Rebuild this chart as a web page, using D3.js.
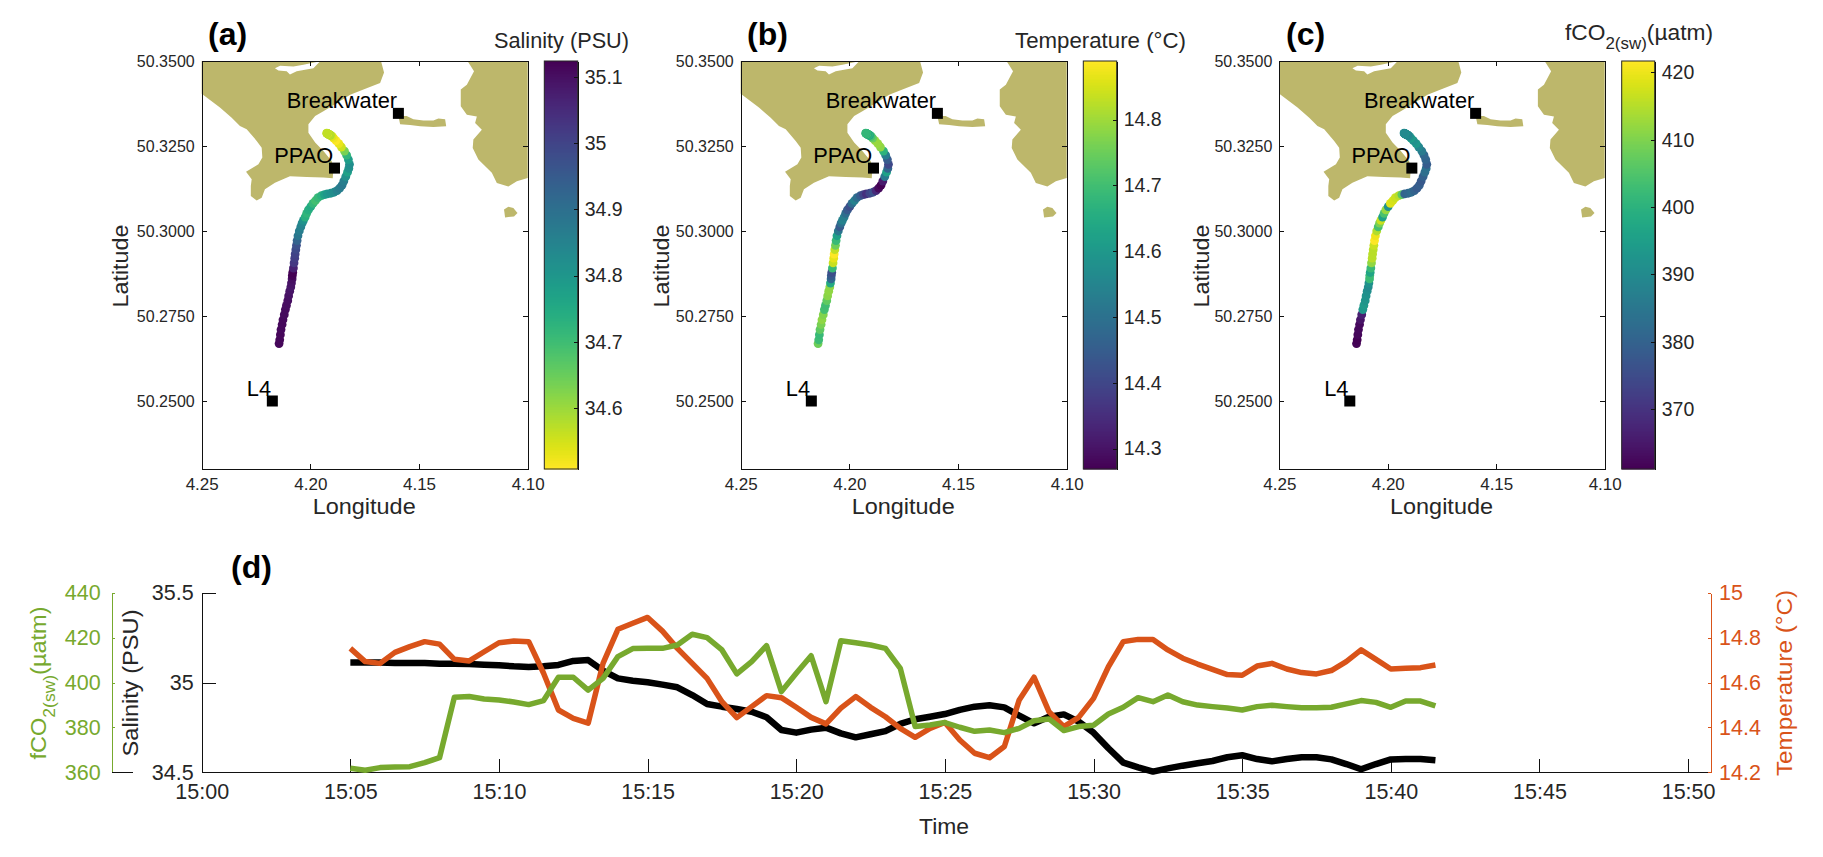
<!DOCTYPE html>
<html>
<head>
<meta charset="utf-8">
<title>Salinity, temperature and fCO2 transect</title>
<script src="https://cdn.jsdelivr.net/npm/d3@7"></script>
<style>
  body { margin: 0; background: #fff; }
  text { font-family: "Liberation Sans", Arial, sans-serif; fill: #262626; }
  .axis path, .axis line { stroke: #111; shape-rendering: crispEdges; }
</style>
</head>
<body>
<div id="chart"></div>
<script>
// minutes after 15:00 of each underway sample
const sampleMinutes = [5, 5.5, 6, 6.5, 7, 7.5, 8, 8.5, 9, 9.5, 10, 10.5, 11, 11.5, 12, 12.5, 13, 13.5, 14, 14.5,
  15, 15.5, 16, 16.5, 17, 17.5, 18, 18.5, 19, 19.5, 20, 20.5, 21, 21.5, 22, 22.5, 23, 23.5, 24, 24.5,
  25, 25.5, 26, 26.5, 27, 27.5, 28, 28.5, 29, 29.5, 30, 30.5, 31, 31.5, 32, 32.5, 33, 33.5, 34, 34.5,
  35, 35.5, 36, 36.5, 37, 37.5, 38, 38.5, 39, 39.5, 40, 40.5, 41, 41.5];

const salinity = [35.113, 35.113, 35.112, 35.110, 35.110, 35.110, 35.106, 35.106, 35.104, 35.100,
  35.097, 35.091, 35.087, 35.091, 35.099, 35.121, 35.126, 35.067, 35.024, 35.011,
  35.002, 34.989, 34.974, 34.931, 34.881, 34.866, 34.853, 34.838, 34.807, 34.736,
  34.721, 34.738, 34.749, 34.717, 34.695, 34.712, 34.730, 34.770, 34.796, 34.810,
  34.825, 34.848, 34.866, 34.874, 34.862, 34.816, 34.773, 34.810, 34.823, 34.783,
  34.721, 34.634, 34.554, 34.528, 34.504, 34.522, 34.537, 34.550, 34.563, 34.584,
  34.595, 34.574, 34.561, 34.574, 34.584, 34.584, 34.572, 34.546, 34.517, 34.546,
  34.572, 34.574, 34.574, 34.567];

const temperature = [14.753, 14.694, 14.686, 14.735, 14.761, 14.783, 14.772, 14.704, 14.697, 14.738,
  14.778, 14.786, 14.783, 14.642, 14.478, 14.441, 14.419, 14.686, 14.838, 14.865,
  14.891, 14.830, 14.753, 14.686, 14.619, 14.515, 14.444, 14.493, 14.542, 14.533,
  14.490, 14.445, 14.416, 14.486, 14.538, 14.490, 14.448, 14.396, 14.356, 14.396,
  14.422, 14.344, 14.285, 14.265, 14.315, 14.523, 14.624, 14.471, 14.404, 14.445,
  14.530, 14.671, 14.783, 14.793, 14.793, 14.746, 14.709, 14.683, 14.659, 14.636,
  14.633, 14.674, 14.686, 14.661, 14.645, 14.639, 14.654, 14.694, 14.746, 14.704,
  14.661, 14.664, 14.667, 14.679];

const fco2 = [361.8, 360.9, 362.1, 362.4, 362.5, 364.3, 366.5, 393.5, 393.8, 392.7,
  392.3, 391.4, 390.2, 392.0, 402.4, 402.4, 396.7, 401.9, 411.6, 415.2,
  415.3, 415.3, 416.8, 421.6, 420.1, 414.6, 403.9, 409.4, 416.5, 396.0,
  404.2, 412.0, 391.5, 418.7, 417.8, 416.8, 415.3, 406.4, 380.4, 381.1,
  382.2, 380.1, 378.3, 378.9, 377.7, 379.6, 383.0, 383.8, 378.6, 380.4,
  381.0, 386.0, 389.0, 393.3, 391.5, 394.5, 391.5, 390.0, 389.3, 388.7,
  387.8, 389.3, 389.9, 389.3, 388.8, 388.8, 389.0, 390.5, 392.0, 391.2,
  389.0, 391.8, 391.8, 389.6];

const trackLon = [4.2144, 4.2141, 4.2138, 4.2135, 4.2130, 4.2126, 4.2120, 4.2115, 4.2110, 4.2104,
  4.2100, 4.2095, 4.2090, 4.2087, 4.2084, 4.2083, 4.2081, 4.2078, 4.2075, 4.2072,
  4.2070, 4.2067, 4.2064, 4.2061, 4.2057, 4.2051, 4.2044, 4.2038, 4.2032, 4.2024,
  4.2017, 4.2009, 4.1998, 4.1988, 4.1977, 4.1965, 4.1949, 4.1935, 4.1922, 4.1906,
  4.1891, 4.1877, 4.1865, 4.1854, 4.1846, 4.1837, 4.1829, 4.1823, 4.1820, 4.1825,
  4.1833, 4.1843, 4.1857, 4.1869, 4.1882, 4.1893, 4.1900, 4.1906, 4.1908, 4.1909,
  4.1911, 4.1912, 4.1914, 4.1915, 4.1917, 4.1918, 4.1918, 4.1920, 4.1920, 4.1922,
  4.1922, 4.1923, 4.1923, 4.1925];

const trackLat = [50.2669, 50.2680, 50.2695, 50.2710, 50.2725, 50.2739, 50.2754, 50.2769, 50.2781, 50.2795,
  50.2809, 50.2823, 50.2835, 50.2847, 50.2859, 50.2869, 50.2878, 50.2891, 50.2906, 50.2920,
  50.2932, 50.2945, 50.2958, 50.2972, 50.2986, 50.3000, 50.3012, 50.3023, 50.3031, 50.3041,
  50.3052, 50.3062, 50.3072, 50.3081, 50.3089, 50.3098, 50.3104, 50.3107, 50.3109, 50.3111,
  50.3114, 50.3119, 50.3126, 50.3135, 50.3147, 50.3160, 50.3173, 50.3184, 50.3196, 50.3210,
  50.3223, 50.3235, 50.3247, 50.3257, 50.3266, 50.3273, 50.3278, 50.3281, 50.3282, 50.3282,
  50.3283, 50.3283, 50.3284, 50.3284, 50.3285, 50.3285, 50.3285, 50.3286, 50.3286, 50.3286,
  50.3287, 50.3287, 50.3287, 50.3288];

// coastline outlines, [lon, lat]
const mainLand = [[4.25, 50.35], [4.1675, 50.35], [4.1661, 50.3466], [4.1679, 50.3435], [4.1741, 50.3420],
  [4.1817, 50.3401], [4.1879, 50.3376], [4.1940, 50.3352], [4.1978, 50.3338], [4.2009, 50.3314],
  [4.2009, 50.3289], [4.1978, 50.3260], [4.1940, 50.3235], [4.1902, 50.3206], [4.1894, 50.3186],
  [4.1897, 50.3155], [4.1940, 50.3157], [4.2017, 50.3159], [4.2094, 50.3161], [4.2163, 50.3142],
  [4.2209, 50.3123], [4.2224, 50.3098], [4.2247, 50.3090], [4.2274, 50.3103], [4.2274, 50.3132],
  [4.2270, 50.3152], [4.2296, 50.3174], [4.2239, 50.3196], [4.2221, 50.3216], [4.2224, 50.3245],
  [4.2247, 50.3265], [4.2293, 50.3299], [4.2324, 50.3309], [4.2362, 50.3333], [4.2416, 50.3363],
  [4.25, 50.3404]];
const inlet = [[4.2163, 50.3479], [4.2139, 50.3486], [4.2078, 50.3484], [4.2032, 50.3489], [4.1955, 50.3499],
  [4.1986, 50.3479], [4.2063, 50.3470], [4.2094, 50.3460], [4.2109, 50.3470], [4.2147, 50.3472]];
const breakwaterLand = [[4.1595, 50.3338], [4.1557, 50.3338], [4.1526, 50.3329], [4.1480, 50.3325], [4.1434, 50.3325],
  [4.1411, 50.3331], [4.1380, 50.3329], [4.1375, 50.3308], [4.1434, 50.3306], [4.1495, 50.3308],
  [4.1541, 50.3312], [4.1587, 50.3314]];
const eastLand = [[4.1277, 50.35], [4.1247, 50.3470], [4.1280, 50.3430], [4.1308, 50.3416], [4.1308, 50.3367],
  [4.1280, 50.3342], [4.1234, 50.3337], [4.1242, 50.3318], [4.1211, 50.3298], [4.1250, 50.3269],
  [4.1253, 50.3244], [4.1227, 50.3210], [4.1165, 50.3171], [4.1142, 50.3141], [4.1089, 50.3131],
  [4.1050, 50.3146], [4.10, 50.3156], [4.10, 50.35]];
const eastIslet = [[4.1109, 50.3063], [4.1089, 50.3071], [4.1066, 50.3068], [4.1047, 50.3053], [4.1063, 50.3043], [4.1104, 50.3040]];

const stationNames = ["Breakwater", "PPAO", "L4"];
const stationLon = [4.1595, 4.1889, 4.2175];
const stationLat = [50.3346, 50.3185, 50.25];

const lonTicks = [4.25, 4.20, 4.15, 4.10];
const latTicks = [50.25, 50.275, 50.30, 50.325, 50.35];
const salinityTicks = [34.6, 34.7, 34.8, 34.9, 35, 35.1];
const temperatureTicks = [14.3, 14.4, 14.5, 14.6, 14.7, 14.8];
const fco2Ticks = [370, 380, 390, 400, 410, 420];
const timeTicks = ["15:00", "15:05", "15:10", "15:15", "15:20", "15:25", "15:30", "15:35", "15:40", "15:45", "15:50"];

const landColor = "#bdb76b";
const co2Color = "#77a92e";
const tempColor = "#d95319";

const svg = d3.select("#chart").append("svg").attr("width", 1823).attr("height", 857);

function fitText(sel, length) {
  return sel.attr("textLength", length).attr("lengthAdjust", "spacingAndGlyphs");
}

const panels = [
  { tag: "(a)", tagX: 208, left: 201.7, right: 527.7, barLeft: 544.3, barRight: 577.7, latX: 120,
    values: salinity, domain: [34.508, 35.124], ticks: salinityTicks, flip: true, fmt: d3.format("") },
  { tag: "(b)", tagX: 747, left: 740.7, right: 1066.7, barLeft: 1083.3, barRight: 1116.7, latX: 661,
    values: temperature, domain: [14.269, 14.889], ticks: temperatureTicks, flip: false, fmt: d3.format("") },
  { tag: "(c)", tagX: 1286, left: 1279.3, right: 1604.7, barLeft: 1621.7, barRight: 1654.7, latX: 1201,
    values: fco2, domain: [361.1, 421.7], ticks: fco2Ticks, flip: false, fmt: d3.format("") }
];

const mapTop = 61, mapBottom = 469;

panels.forEach(p => {
  const x = d3.scaleLinear().domain([4.25, 4.10]).range([p.left, p.right]);
  const y = d3.scaleLinear().domain([50.23, 50.35]).range([mapBottom, mapTop]);
  const g = svg.append("g");

  const shape = d3.line().x(d => x(d[0])).y(d => y(d[1])).curve(d3.curveLinearClosed);
  [mainLand, breakwaterLand, eastLand, eastIslet].forEach(poly => {
    g.append("path").attr("d", shape(poly)).attr("fill", landColor);
  });
  g.append("path").attr("d", shape(inlet)).attr("fill", "#fff");

  // colour runs over the value range, salinity upside down
  const t = d3.scaleLinear().domain(p.flip ? [p.domain[1], p.domain[0]] : p.domain).range([0, 1]);
  const color = v => d3.interpolateViridis(t(v));

  g.selectAll("circle.track").data(p.values).join("circle")
    .attr("class", "track")
    .attr("cx", (d, i) => x(trackLon[i]))
    .attr("cy", (d, i) => y(trackLat[i]))
    .attr("r", 4.4)
    .attr("fill", d => color(d));

  g.selectAll("rect.station").data(stationNames).join("rect")
    .attr("class", "station")
    .attr("x", (d, i) => x(stationLon[i]) - 5.5)
    .attr("y", (d, i) => y(stationLat[i]) - 5.5)
    .attr("width", 11).attr("height", 11)
    .attr("fill", "#000");

  g.selectAll("text.station").data(stationNames).join("text")
    .attr("class", "station")
    .attr("x", (d, i) => x(stationLon[i]) - 1.3)
    .attr("y", (d, i) => y(stationLat[i]) - 5.5)
    .attr("text-anchor", "end")
    .attr("font-size", 21.8)
    .style("fill", "#000")
    .text(d => d);

  // axes box with inward ticks on all sides
  g.append("g").attr("class", "axis").attr("transform", `translate(0,${mapBottom})`)
    .call(d3.axisBottom(x).tickValues(lonTicks).tickFormat(d3.format(".2f")).tickSizeInner(-5).tickSizeOuter(0).tickPadding(9))
    .selectAll("text").attr("font-size", 17);
  g.append("g").attr("class", "axis").attr("transform", `translate(0,${mapTop})`)
    .call(d3.axisTop(x).tickValues(lonTicks).tickFormat("").tickSizeInner(-5).tickSizeOuter(0));
  g.append("g").attr("class", "axis").attr("transform", `translate(${p.left},0)`)
    .call(d3.axisLeft(y).tickValues(latTicks).tickFormat(d3.format(".4f")).tickSizeInner(-5).tickSizeOuter(0).tickPadding(7))
    .selectAll("text").attr("font-size", 16);
  g.append("g").attr("class", "axis").attr("transform", `translate(${p.right},0)`)
    .call(d3.axisRight(y).tickValues(latTicks).tickFormat("").tickSizeInner(-5).tickSizeOuter(0));

  fitText(g.append("text"), 103)
    .attr("x", (p.left + p.right) / 2 - 0.5)
    .attr("y", 514)
    .attr("text-anchor", "middle")
    .attr("font-size", 22)
    .text("Longitude");

  fitText(g.append("text"), 83)
    .attr("transform", `translate(${p.latX + 8},266) rotate(-90)`)
    .attr("text-anchor", "middle")
    .attr("font-size", 22)
    .text("Latitude");

  // colour bar
  const bar = d3.scaleLinear().domain(p.domain).range([mapBottom, mapTop]);
  const steps = d3.range(0, mapBottom - mapTop);
  g.selectAll("rect.step").data(steps).join("rect")
    .attr("class", "step")
    .attr("x", p.barLeft)
    .attr("y", d => mapTop + d)
    .attr("width", p.barRight - p.barLeft)
    .attr("height", 1.5)
    .attr("fill", d => color(bar.invert(mapTop + d + 0.5)));
  g.append("rect")
    .attr("x", p.barLeft).attr("y", mapTop)
    .attr("width", p.barRight - p.barLeft).attr("height", mapBottom - mapTop)
    .attr("fill", "none").attr("stroke", "#262626");
  g.append("g").attr("class", "axis").attr("transform", `translate(${p.barRight},0)`)
    .call(d3.axisRight(bar).tickValues(p.ticks).tickFormat(p.fmt).tickSizeInner(-4).tickSizeOuter(0).tickPadding(7))
    .selectAll("text").attr("font-size", 19.5);

  g.append("text")
    .attr("x", p.tagX).attr("y", 45)
    .attr("font-size", 32).attr("font-weight", "bold")
    .style("fill", "#000")
    .text(p.tag);
});

fitText(svg.append("text"), 135).attr("x", 494).attr("y", 48).attr("font-size", 21.5).text("Salinity (PSU)");
fitText(svg.append("text"), 171).attr("x", 1015).attr("y", 48).attr("font-size", 21.5).text("Temperature (°C)");
const co2Title = fitText(svg.append("text"), 148).attr("x", 1565).attr("y", 40).attr("font-size", 21.5);
co2Title.append("tspan").text("fCO");
co2Title.append("tspan").attr("dy", 9).attr("font-size", 16).text("2(sw)");
co2Title.append("tspan").attr("dy", -9).text("(µatm)");

// time series panel
const parseTime = d3.timeParse("%H:%M");
const minuteToDate = m => new Date(parseTime("15:00").getTime() + m * 60000);
const seriesLeft = 201.7, seriesRight = 1711, seriesTop = 593, seriesBottom = 772.3;

const xTime = d3.scaleTime().domain([minuteToDate(0), minuteToDate(50.77)]).range([seriesLeft, seriesRight]);
const ySal = d3.scaleLinear().domain([34.5, 35.5]).range([seriesBottom, seriesTop]);
const yCo2 = d3.scaleLinear().domain([360, 440]).range([seriesBottom, seriesTop]);
const yTemp = d3.scaleLinear().domain([14.2, 15]).range([seriesBottom, seriesTop]);

const xAxis = svg.append("g").attr("class", "axis").attr("transform", `translate(0,${seriesBottom})`)
  .call(d3.axisBottom(xTime).tickValues(timeTicks.map(parseTime)).tickFormat(d3.timeFormat("%H:%M"))
    .tickSizeInner(-13).tickSizeOuter(0).tickPadding(11));
xAxis.selectAll("text").attr("font-size", 21.5);

const salAxis = svg.append("g").attr("class", "axis").attr("transform", `translate(${seriesLeft},0)`)
  .call(d3.axisLeft(ySal).tickValues([34.5, 35, 35.5]).tickFormat(d3.format("")).tickSizeInner(-14).tickSizeOuter(0).tickPadding(8));
salAxis.selectAll("text").attr("font-size", 21.5);

const co2Axis = svg.append("g").attr("class", "axis").attr("transform", "translate(111.7,0)")
  .call(d3.axisLeft(yCo2).tickValues([360, 380, 400, 420, 440]).tickSizeInner(-3).tickSizeOuter(0).tickPadding(11));
co2Axis.selectAll("path, line").style("stroke", co2Color);
co2Axis.selectAll("text").attr("font-size", 21.5).style("fill", co2Color);
// short foot of the fCO2 axis
svg.append("line").attr("x1", 111.7).attr("x2", 133).attr("y1", seriesBottom).attr("y2", seriesBottom)
  .attr("stroke", "#111").attr("shape-rendering", "crispEdges");

const tempAxis = svg.append("g").attr("class", "axis").attr("transform", `translate(${seriesRight},0)`)
  .call(d3.axisRight(yTemp).tickValues([14.2, 14.4, 14.6, 14.8, 15]).tickFormat(d3.format("")).tickSizeInner(-3).tickSizeOuter(0).tickPadding(8));
tempAxis.selectAll("path, line").style("stroke", tempColor);
tempAxis.selectAll("text").attr("font-size", 21.5).style("fill", tempColor);

const seriesLine = (values, y, stroke, width) => {
  const line = d3.line().x((d, i) => xTime(minuteToDate(sampleMinutes[i]))).y(d => y(d));
  svg.append("path")
    .attr("d", line(values))
    .attr("fill", "none")
    .attr("stroke", stroke)
    .attr("stroke-width", width)
    .attr("stroke-linejoin", "round");
};
seriesLine(salinity, ySal, "#000", 6.5);
seriesLine(temperature, yTemp, tempColor, 5.5);
seriesLine(fco2, yCo2, co2Color, 5.5);

svg.append("text").attr("x", 231).attr("y", 578).attr("font-size", 32).attr("font-weight", "bold").style("fill", "#000").text("(d)");

fitText(svg.append("text"), 50).attr("x", 944).attr("y", 834).attr("text-anchor", "middle").attr("font-size", 22).text("Time");

fitText(svg.append("text"), 147)
  .attr("transform", "translate(138,683) rotate(-90)")
  .attr("text-anchor", "middle").attr("font-size", 21.5)
  .text("Salinity (PSU)");

const co2Label = fitText(svg.append("text"), 153)
  .attr("transform", "translate(46,683) rotate(-90)")
  .attr("text-anchor", "middle").attr("font-size", 21.5)
  .style("fill", co2Color);
co2Label.append("tspan").style("fill", co2Color).text("fCO");
co2Label.append("tspan").attr("dy", 9).attr("font-size", 16).style("fill", co2Color).text("2(sw)");
co2Label.append("tspan").attr("dy", -9).style("fill", co2Color).text("(µatm)");

fitText(svg.append("text"), 186)
  .attr("transform", "translate(1792,683) rotate(-90)")
  .attr("text-anchor", "middle").attr("font-size", 21.5)
  .style("fill", tempColor)
  .text("Temperature (°C)");
</script>
</body>
</html>
